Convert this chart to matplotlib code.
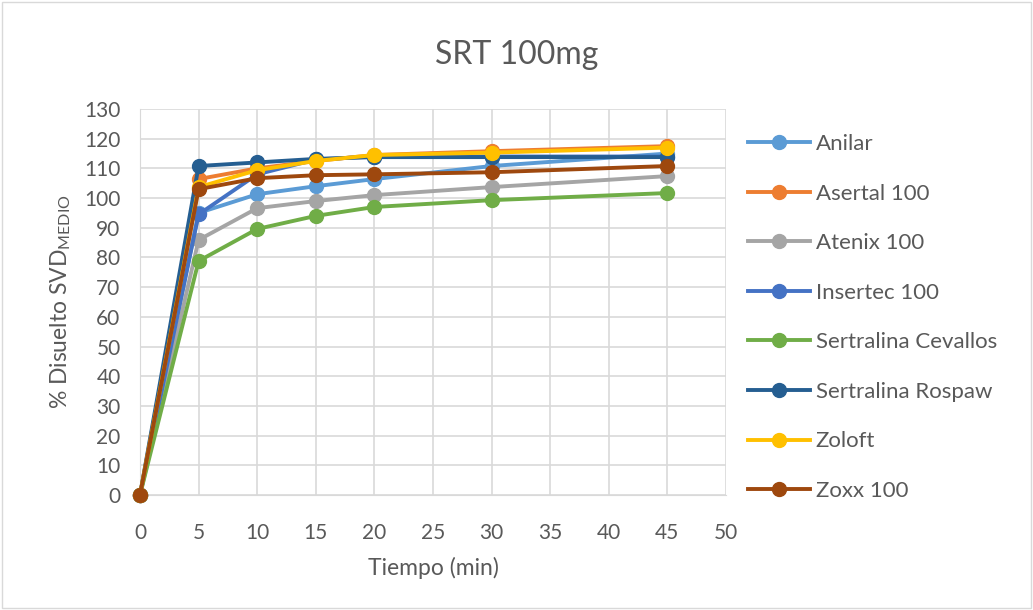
import matplotlib
matplotlib.use("Agg")
import matplotlib.pyplot as plt

plt.rcParams['font.family'] = ['Lato', 'DejaVu Sans']
plt.rcParams['mathtext.fontset'] = 'custom'
plt.rcParams['mathtext.rm'] = 'Lato'

# datos
tiempo = [0, 5, 10, 15, 20, 30, 45]
anilar = [0, 95.0, 101.3, 104.0, 106.4, 110.8, 115.0]
asertal = [0, 106.4, 110.0, 112.5, 114.5, 115.8, 117.5]
atenix = [0, 85.9, 96.6, 99.0, 101.0, 103.7, 107.4]
insertec = [0, 94.5, 108.0, 113.0, 114.0, 114.0, 114.0]
cevallos = [0, 78.8, 89.6, 94.0, 97.0, 99.3, 101.7]
rospaw = [0, 110.8, 112.0, 113.2, 113.8, 113.8, 113.8]
zoloft = [0, 103.7, 109.4, 112.5, 114.5, 115.3, 117.0]
zoxx = [0, 103.0, 106.7, 107.7, 108.0, 108.7, 110.8]

series = [("Anilar", anilar, "#5B9BD5"),
          ("Asertal 100", asertal, "#ED7D31"),
          ("Atenix 100", atenix, "#A5A5A5"),
          ("Insertec 100", insertec, "#4472C4"),
          ("Sertralina Cevallos", cevallos, "#70AD47"),
          ("Sertralina Rospaw", rospaw, "#255E91"),
          ("Zoloft", zoloft, "#FFC000"),
          ("Zoxx 100", zoxx, "#9E480E")]

txt = "#595959"
fig = plt.figure(figsize=(10.33, 6.1), dpi=100)
ax = fig.add_axes([140/1033, 1-495/610, (726-140)/1033, (495-109)/610])

# borde del gráfico
fig.patches.append(plt.Rectangle((0.002, 0.003), 0.996, 0.994, transform=fig.transFigure,
                                 fill=False, edgecolor="#D9D9D9", linewidth=1))

handles = []
for name, vals, c in series:
    h, = ax.plot(tiempo, vals, color=c, lw=2.8, marker="o", markersize=10,
                 markeredgecolor=c, label=name, zorder=3, clip_on=False)
    handles.append(h)

ax.set_xlim(0, 50)
ax.set_ylim(0, 130)
ax.set_xticks(range(0, 51, 5))
ax.set_yticks(range(0, 131, 10))
ax.grid(True, color="#D9D9D9", lw=1.2)
ax.set_axisbelow(True)
for s in ax.spines.values():
    s.set_visible(False)
ax.spines['left'].set_visible(True)
ax.spines['left'].set_color("#D9D9D9")
ax.spines['bottom'].set_visible(True)
ax.spines['bottom'].set_color("#D9D9D9")
ax.tick_params(length=0, labelsize=15, colors=txt)
ax.tick_params(axis='x', pad=20)
ax.tick_params(axis='y', pad=14)

ax.set_xlabel("Tiempo (min)", fontsize=16.5, color=txt, labelpad=10)
ax.set_ylabel(r"% Disuelto SVD$_{\mathregular{MEDIO}}$", fontsize=16.5, color=txt, labelpad=8)
fig.text(0.5, 1-55/610, "SRT 100mg", ha="center", va="center", fontsize=23, color=txt)

fig.legend(handles=handles, loc="upper left", bbox_to_anchor=(728/1033, 1-114/610),
           frameon=False, fontsize=16, labelcolor=txt, handlelength=2.8,
           labelspacing=1.33, handletextpad=0.25)

fig.savefig("out.png", dpi=100)
